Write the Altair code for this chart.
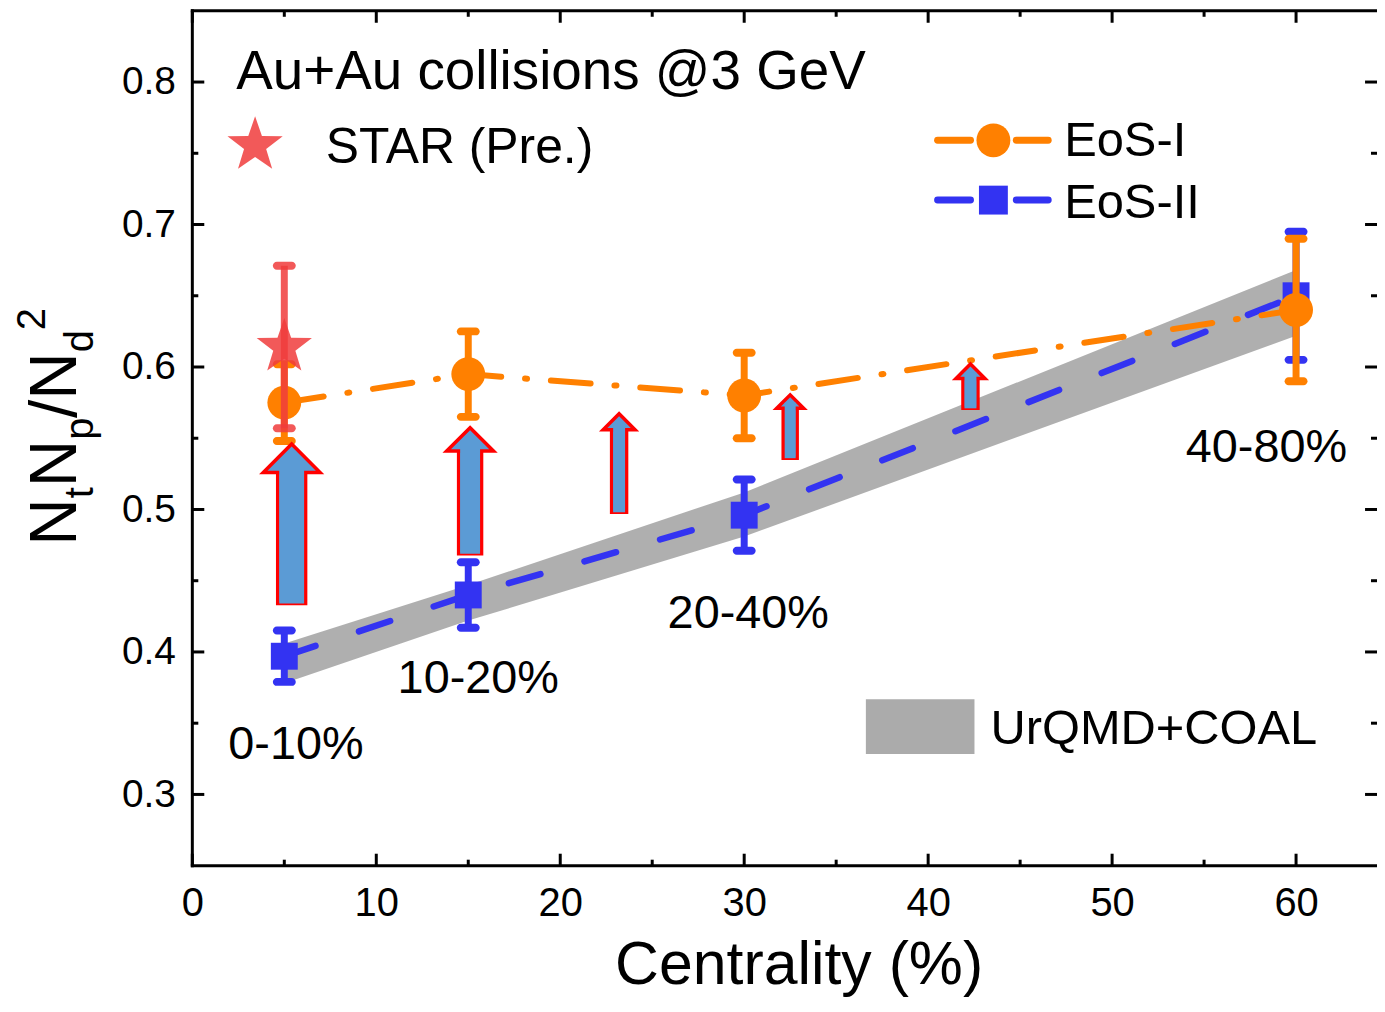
import math
import altair as alt
import pandas as pd

# ---------------- data ----------------
centrality = [5, 15, 30, 60]
eos1 = [0.575, 0.595, 0.580, 0.640]
eos1_err = [0.027, 0.030, 0.030, 0.050]
eos2 = [0.397, 0.440, 0.496, 0.650]
eos2_err = [0.018, 0.023, 0.025, 0.045]
band_lo = [0.378, 0.422, 0.481, 0.622]
band_hi = [0.406, 0.447, 0.512, 0.668]
star_x = [5]
star_y = [0.614]
star_err = [0.057]
arrow_x = [5.4, 15.1, 23.2, 32.5, 42.3]
arrow_from = [0.434, 0.469, 0.498, 0.536, 0.571]
arrow_base = [0.526, 0.541, 0.556, 0.571, 0.592]
bin_labels = ["0-10%", "10-20%", "20-40%", "40-80%"]
x_ticks = [0, 10, 20, 30, 40, 50, 60]
x_minor = [5, 15, 25, 35, 45, 55]
y_ticks = [0.3, 0.4, 0.5, 0.6, 0.7, 0.8]
y_minor = [0.35, 0.45, 0.55, 0.65, 0.75]

# ---------------- styles / layout ----------------
FONT = "Liberation Sans"
ORANGE = "#ff8000"
BLUE = "#3333f2"
RED = "#f03c3c"
GRAY = "#ababab"
W, H = 1189, 858
arrow_body_w = [28, 23, 15, 14, 15]
arrow_head_w = [57, 47, 32, 27, 29]

# five-pointed star glyph (unit circumradius) for the symbol shape
_pts = []
for k in range(10):
    r = 1.0 if k % 2 == 0 else 0.40
    a = math.radians(-90 + 36 * k)
    _pts.append(f"{r * math.cos(a):.4f},{r * math.sin(a):.4f}")
STAR_PATH = "M" + "L".join(_pts) + "Z"
HEAD_PATH = "M-1,0L0,-1L1,0Z"

xscale = alt.Scale(domain=[0, 64.4], nice=False, zero=False, padding=0)
yscale = alt.Scale(domain=[0.25, 0.85], nice=False, zero=False, padding=0)
xaxis = alt.Axis(values=x_ticks, orient="bottom", ticks=False, domain=False, grid=False,
                 labelFont=FONT, labelFontSize=40, labelPadding=18, labelColor="black",
                 title=None, format="d", labelFlush=False, labelOverlap=False)
yaxis = alt.Axis(values=y_ticks, orient="left", ticks=False, domain=False, grid=False,
                 labelFont=FONT, labelFontSize=39, labelPadding=17, labelColor="black",
                 title=None, format=".1f", labelFlush=False, labelOverlap=False)


def X(f):
    return alt.X(f, type="quantitative", scale=xscale, axis=xaxis)


def Y(f):
    return alt.Y(f, type="quantitative", scale=yscale, axis=yaxis)


df1 = pd.DataFrame({"x": centrality, "y": eos1,
                    "lo": [a - b for a, b in zip(eos1, eos1_err)],
                    "hi": [a + b for a, b in zip(eos1, eos1_err)]})
df2 = pd.DataFrame({"x": centrality, "y": eos2,
                    "lo": [a - b for a, b in zip(eos2, eos2_err)],
                    "hi": [a + b for a, b in zip(eos2, eos2_err)]})
dfb = pd.DataFrame({"x": centrality, "lo": band_lo, "hi": band_hi})
dfs = pd.DataFrame({"x": star_x, "y": star_y,
                    "lo": [a - b for a, b in zip(star_y, star_err)],
                    "hi": [a + b for a, b in zip(star_y, star_err)]})
dfa = pd.DataFrame({"x": arrow_x, "y0": arrow_from, "yb": arrow_base,
                    "ybt": [b + 0.004 for b in arrow_base],
                    "bw": arrow_body_w, "bwi": [w - 3 for w in arrow_body_w],
                    "hs": [w * w for w in arrow_head_w]})

layers = []

# band
layers.append(alt.Chart(dfb).mark_area(color=GRAY, opacity=0.95).encode(
    x=X("x"), y=Y("lo"), y2="hi"))
# lines
layers.append(alt.Chart(df2).mark_line(color=BLUE, strokeWidth=6.5, strokeDash=[33, 46],
                                       strokeCap="round").encode(x=X("x"), y=Y("y")))
layers.append(alt.Chart(df1).mark_line(color=ORANGE, strokeWidth=6, strokeDash=[40, 24, 2, 24],
                                       strokeCap="round").encode(x=X("x"), y=Y("y")))


def errbars(df, color, op=1.0):
    out = [alt.Chart(df).mark_rule(color=color, strokeWidth=7, opacity=op).encode(
        x=X("x"), y=Y("lo"), y2="hi")]
    for f in ["lo", "hi"]:
        out.append(alt.Chart(df).mark_tick(color=color, orient="horizontal", size=23,
                                           thickness=8, cornerRadius=4, opacity=op).encode(
            x=X("x"), y=Y(f)))
    return out


layers += errbars(df2, BLUE)
layers.append(alt.Chart(df2).mark_point(shape="square", filled=True, color=BLUE, size=729,
                                        opacity=1).encode(x=X("x"), y=Y("y")))
layers += errbars(df1, ORANGE)
layers.append(alt.Chart(df1).mark_point(shape="circle", filled=True, color=ORANGE, size=1156,
                                        opacity=1).encode(x=X("x"), y=Y("y")))
# STAR
layers += errbars(dfs, RED, 0.85)
layers.append(alt.Chart(dfs).mark_point(shape=STAR_PATH, filled=True, color=RED, size=3400,
                                        opacity=0.85).encode(x=X("x"), y=Y("y")))

# arrows
ARROW_FILL = "#5b9bd5"
layers.append(alt.Chart(dfa).mark_bar(fill=ARROW_FILL, stroke="#ff0000", strokeWidth=3.5,
                                      orient="vertical").encode(
    x=X("x"), y=Y("y0"), y2="yb", size=alt.Size("bw:Q", scale=None, legend=None)))
layers.append(alt.Chart(dfa).mark_point(shape=HEAD_PATH, filled=True, fill=ARROW_FILL,
                                        stroke="#ff0000", strokeWidth=3.5, opacity=1,
                                        strokeJoin="miter").encode(
    x=X("x"), y=Y("yb"), size=alt.Size("hs:Q", scale=None, legend=None)))
layers.append(alt.Chart(dfa).mark_bar(fill=ARROW_FILL, strokeWidth=0, orient="vertical").encode(
    x=X("x"), y=Y("y0"), y2="ybt", size=alt.Size("bwi:Q", scale=None, legend=None)))

# ---------------- ticks and frame ----------------
one = alt.Data(values=[{"a": 1}])
for vals, ln in [(x_ticks, 12), (x_minor, 6)]:
    d = pd.DataFrame({"v": vals})
    layers.append(alt.Chart(d).mark_rule(color="black", strokeWidth=3).encode(
        x=X("v"), y=alt.value(H), y2=alt.value(H - ln)))
    layers.append(alt.Chart(d).mark_rule(color="black", strokeWidth=3).encode(
        x=X("v"), y=alt.value(0), y2=alt.value(ln)))
for vals, ln in [(y_ticks, 12), (y_minor, 6)]:
    d = pd.DataFrame({"v": vals})
    layers.append(alt.Chart(d).mark_rule(color="black", strokeWidth=3).encode(
        y=Y("v"), x=alt.value(0), x2=alt.value(ln)))
    layers.append(alt.Chart(d).mark_rule(color="black", strokeWidth=3).encode(
        y=Y("v"), x=alt.value(W), x2=alt.value(W - ln)))
layers.append(alt.Chart(one).mark_rule(color="black", strokeWidth=3).encode(
    x=alt.value(0), y=alt.value(-1.5), y2=alt.value(H + 1.5)))
layers.append(alt.Chart(one).mark_rule(color="black", strokeWidth=3).encode(
    x=alt.value(-1.5), x2=alt.value(W), y=alt.value(H)))
layers.append(alt.Chart(one).mark_rule(color="black", strokeWidth=3).encode(
    x=alt.value(-1.5), x2=alt.value(W), y=alt.value(0)))

# ---------------- legend / annotations (pixel layout) ----------------
for (xa, xb, yy, c) in [(748, 781, 130, ORANGE), (827, 859, 130, ORANGE),
                        (748, 781, 190, BLUE), (827, 859, 190, BLUE)]:
    layers.append(alt.Chart(one).mark_rule(strokeWidth=7, strokeCap="round", color=c).encode(
        x=alt.value(xa), x2=alt.value(xb), y=alt.value(yy)))
layers.append(alt.Chart(one).mark_point(shape="circle", filled=True, color=ORANGE, size=1156,
                                        opacity=1).encode(x=alt.value(804), y=alt.value(130)))
layers.append(alt.Chart(one).mark_point(shape="square", filled=True, color=BLUE, size=841,
                                        opacity=1).encode(x=alt.value(804), y=alt.value(190)))
layers.append(alt.Chart(one).mark_point(shape=STAR_PATH, filled=True, color=RED, size=3400,
                                        opacity=0.85).encode(x=alt.value(63), y=alt.value(135)))
layers.append(alt.Chart(one).mark_rect(color=GRAY).encode(
    x=alt.value(676), x2=alt.value(785), y=alt.value(691), y2=alt.value(746)))


def txt(s, x, y, fs, align="left", angle=0):
    kw = dict(align=align, baseline="alphabetic", font=FONT, color="black", fontSize=fs,
              text=s)
    if angle:
        kw["angle"] = angle
    return alt.Chart(one).mark_text(**kw).encode(x=alt.value(x), y=alt.value(y))


layers += [
    txt("Au+Au collisions @3 GeV", 44, 78, 55),
    txt("STAR (Pre.)", 134, 153, 50),
    txt("EoS-I", 875, 146, 49),
    txt("EoS-II", 875, 208, 49),
    txt("UrQMD+COAL", 801, 736, 49),
    txt("Centrality (%)", 609, 977, 61, align="center"),
]
for s, (x, y) in zip(bin_labels, [(104, 751), (287, 685), (558, 619), (1078, 453)]):
    layers.append(txt(s, x, y, 47, align="center"))

# y title N_t N_p / N_d ^2 built from pieces (rotated)
for s, x, y, fs in [("N", -117, 537, 66), ("t", -100, 489.3, 40), ("N", -117, 478.3, 66),
                    ("p", -100, 430.6, 40), ("/N", -117, 408.6, 66), ("d", -100, 342.6, 40),
                    ("2", -148, 320.6, 40)]:
    layers.append(txt(s, x, y, fs, angle=270))

chart = alt.layer(*layers).properties(
    width=W, height=H,
    autosize=alt.AutoSizeParams(type="none"),
    padding={"left": 185, "top": 1, "right": 0, "bottom": 131},
    background="white",
).configure_view(stroke=None)

chart.save("out.html", embed_options={"renderer": "svg", "actions": False})
